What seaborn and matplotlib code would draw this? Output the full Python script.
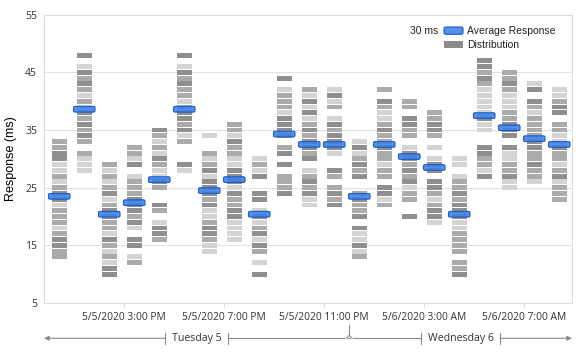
import matplotlib
matplotlib.use("Agg")
import matplotlib.pyplot as plt
import matplotlib.transforms as mtransforms
from matplotlib.patches import FancyBboxPatch, Rectangle
import pandas as pd
import seaborn as sns

# hour of each column, counted from 5/5/2020 00:00 (12 PM ... 8 AM next day)
col_hours = list(range(12, 33))
avg_response = [23.5, 38.6, 20.4, 22.4, 26.4, 38.6, 24.5, 26.4, 20.4, 34.3, 32.5,
                32.5, 23.5, 32.5, 30.4, 28.5, 20.4, 37.5, 35.4, 33.5, 32.5]
# lowest response bucket (ms) of every column
dist_min = [13, 28, 10, 12, 16, 28, 14, 16, 10, 24, 22, 22, 13, 22, 20, 19, 10, 27, 25, 26, 23]
# one char per 1 ms bucket going up from dist_min: 0 = empty, 1 = few, 2 = some, 3 = many
dist_levels = [
    "223321222133212113322",
    "111202323231212323103",
    "33121231223321321212",
    "210330132333222103122",
    "23310230023112312123",
    "130002132332122323103",
    "112332113233313212001",
    "111133223133311223122",
    "301023132131033003121",
    "322203032033331222103",
    "113232103233232131312",
    "323202300133323102131",
    "213113032232003232131",
    "213302212232232112302",
    "300221323233102233022",
    "13321233033101023322",
    "322022221133323221011",
    "312233001131111123233",
    "113221130333221112322",
    "122322332222123031",
    "22213212231122033211",
]
tick_hours = [15, 19, 23, 27, 31]
tick_labels = ["5/5/2020 3:00 PM", "5/5/2020 7:00 PM", "5/5/2020 11:00 PM",
               "5/6/2020 3:00 AM", "5/6/2020 7:00 AM"]
day_names = ["Tuesday 5", "Wednesday 6"]
day_break = 24
y_ticks = [5, 15, 25, 35, 45, 55]

shades = {"1": "#d4d4d4", "2": "#ababab", "3": "#8f8f8f"}
blue = (0.24, 0.51, 0.91, 0.88)
blue_edge = "#1d5bc6"
grey_txt = "#333333"

sns.set_theme(style="white")
plt.rcParams["font.family"] = ["Open Sans", "DejaVu Sans"]

rows = []
for h, lo, lev in zip(col_hours, dist_min, dist_levels):
    for k, ch in enumerate(lev):
        if ch != "0":
            rows.append({"hour": h, "value": lo + k, "level": ch})
cells = pd.DataFrame(rows)

W, H = 583, 354
fig = plt.figure(figsize=(W / 100, H / 100), dpi=100)
ax = fig.add_axes([44 / W, 1 - 303 / H, 528 / W, 288.3 / H])

x_shift = 0.4  # columns sit a bit after the hour mark
ax.bar(cells["hour"] + x_shift, 0.85, bottom=cells["value"] - 0.425, width=0.6,
       color=cells["level"].map(shades), linewidth=0, zorder=2)

for h, a in zip(col_hours, avg_response):
    w, hh = 0.86, 0.98
    ax.add_patch(FancyBboxPatch((h + x_shift - w / 2, a - hh / 2), w, hh,
                                boxstyle="round,pad=0,rounding_size=0.06",
                                mutation_aspect=4.0, facecolor=blue,
                                edgecolor=blue_edge, linewidth=0.8, zorder=3))

ax.set_xlim(11.79, 32.91)
ax.set_ylim(5, 55)
ax.set_yticks(y_ticks)
ax.set_yticklabels([str(v) for v in y_ticks], fontsize=7.5, color=grey_txt)
ax.set_xticks(tick_hours)
ax.set_xticklabels(tick_labels, fontsize=7.4, color=grey_txt)
ax.tick_params(axis="y", length=0, pad=5)
ax.tick_params(axis="x", length=3, width=0.8, color="#d9d9d9", pad=3.5, bottom=True)
for v in y_ticks[1:-1]:
    ax.axhline(v, color="#e3e3e3", lw=0.8, zorder=1)
for s in ax.spines.values():
    s.set_color("#dcdcdc")
    s.set_linewidth(0.8)
ax.set_ylabel("Response (ms)", fontsize=9, color="black", family=["Liberation Sans"])
ax.yaxis.set_label_coords(-0.051, 0.5)

# day bracket under the time axis
trans = mtransforms.blended_transform_factory(ax.transData, ax.transAxes)
yb = -0.1224
bar_lo, bar_hi = -0.142, -0.103
line_c = "#8a8a8a"
x0, x1 = ax.get_xlim()
spans = [(x0, day_break), (day_break, x1)]
fig.canvas.draw()
rend = fig.canvas.get_renderer()
px_per_h = 528 / (x1 - x0)
bounds = []
for name, (a, b) in zip(day_names, spans):
    c = (a + b) / 2
    t = ax.text(c, yb, name, transform=trans, ha="center", va="center",
                fontsize=7.6, color=grey_txt)
    half = t.get_window_extent(rend).width / 2 + 6.5
    lo, hi = c - half / px_per_h, c + half / px_per_h
    bounds.append((lo, hi))
    for xv in (lo, hi):
        ax.plot([xv, xv], [bar_lo, bar_hi], transform=trans, color=line_c,
                lw=0.8, clip_on=False)

(l1, r1), (l2, r2) = bounds
ax.annotate("", xy=(x0, yb), xytext=(l1, yb), xycoords=trans, textcoords=trans,
            arrowprops=dict(arrowstyle="-|>", color=line_c, lw=0.8, mutation_scale=7,
                            shrinkA=0, shrinkB=0), annotation_clip=False)
ax.annotate("", xy=(x1, yb), xytext=(r2, yb), xycoords=trans, textcoords=trans,
            arrowprops=dict(arrowstyle="-|>", color=line_c, lw=0.8, mutation_scale=7,
                            shrinkA=0, shrinkB=0), annotation_clip=False)
ax.plot([r1, l2], [yb, yb], transform=trans, color=line_c, lw=0.8, clip_on=False)
nb = 0.12
ax.plot([day_break - nb, day_break, day_break + nb], [yb, yb + 0.008, yb],
        transform=trans, color="white", lw=1.6, clip_on=False)
ax.plot([day_break - nb, day_break, day_break + nb], [yb, yb + 0.01, yb],
        transform=trans, color=line_c, lw=0.8, clip_on=False)
ax.plot([day_break, day_break], [-0.076, yb + 0.01], transform=trans,
        color=line_c, lw=0.8, clip_on=False)

# legend drawn in figure pixels
def fx(x):
    return x / W

def fy(y):
    return 1 - y / H

leg_font = ["Liberation Sans", "DejaVu Sans"]
fig.text(fx(438), fy(31), "30 ms", ha="right", va="center", fontsize=7.5,
         color="#222222", family=leg_font)
fig.patches.append(FancyBboxPatch((fx(444), fy(34.3)), 19 / W, 7.3 / H,
                                  boxstyle="round,pad=0,rounding_size=0.003",
                                  mutation_aspect=W / H, facecolor=blue,
                                  edgecolor=blue_edge, linewidth=0.8,
                                  transform=fig.transFigure, figure=fig))
fig.patches.append(Rectangle((fx(444), fy(48.3)), 19 / W, 7.3 / H,
                             facecolor="#8a8a8a", linewidth=0,
                             transform=fig.transFigure, figure=fig))
fig.text(fx(467), fy(31), "Average Response", ha="left", va="center", fontsize=7.5,
         color="#222222", family=leg_font)
fig.text(fx(467), fy(45), "Distribution", ha="left", va="center", fontsize=7.5,
         color="#222222", family=leg_font)

fig.savefig("out.png", dpi=100)
